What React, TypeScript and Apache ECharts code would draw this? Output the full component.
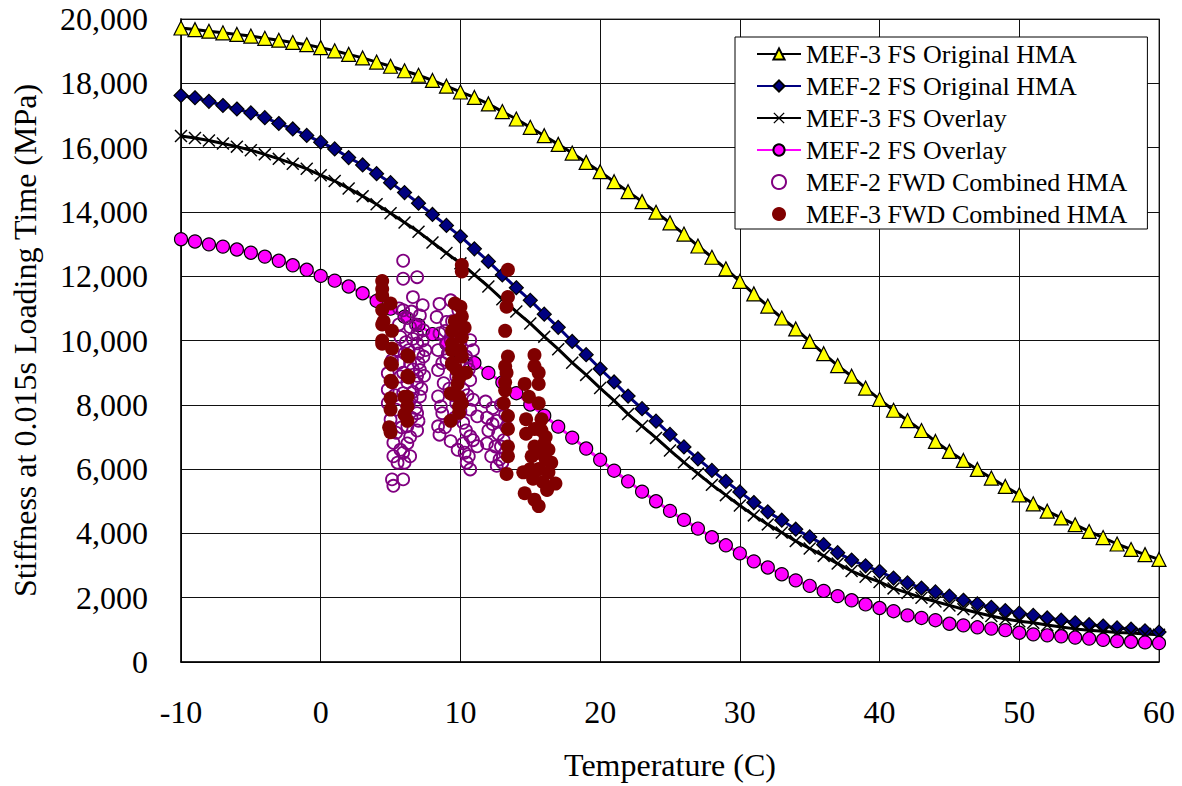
import React, { useEffect, useRef } from "react";
import * as echarts from "echarts";

const temps = [-10,-9,-8,-7,-6,-5,-4,-3,-2,-1,0,1,2,3,4,5,6,7,8,9,10,11,12,13,14,15,16,17,18,19,20,21,22,23,24,25,26,27,28,29,30,31,32,33,34,35,36,37,38,39,40,41,42,43,44,45,46,47,48,49,50,51,52,53,54,55,56,57,58,59,60];

const mef3Original = [19720,19670,19620,19570,19520,19470,19400,19340,19270,19200,19110,19010,18900,18790,18660,18530,18390,18250,18090,17910,17730,17560,17360,17120,16890,16630,16370,16100,15830,15540,15250,14940,14630,14320,13990,13660,13310,12940,12590,12230,11840,11450,11070,10700,10360,9970,9590,9220,8890,8520,8170,7830,7510,7200,6860,6550,6270,5990,5720,5460,5200,4920,4690,4480,4270,4060,3870,3670,3500,3340,3190];

const mef2Original = [17620,17550,17440,17310,17200,17080,16930,16750,16580,16380,16170,15960,15690,15460,15190,14910,14600,14270,13920,13580,13240,12850,12460,12040,11640,11250,10820,10410,9970,9560,9120,8710,8270,7880,7490,7080,6690,6320,5960,5620,5290,4960,4670,4410,4130,3890,3650,3400,3170,2990,2820,2610,2460,2300,2180,2050,1920,1810,1700,1600,1520,1450,1370,1300,1220,1160,1120,1060,1020,970,930];

const mef3Overlay = [16360,16300,16220,16130,16030,15920,15790,15650,15500,15340,15140,14960,14730,14490,14240,13960,13670,13380,13050,12720,12400,12050,11680,11280,10900,10530,10120,9730,9310,8930,8520,8130,7710,7340,6970,6580,6210,5860,5510,5190,4870,4560,4280,4030,3760,3530,3300,3060,2830,2650,2490,2290,2150,2000,1880,1760,1640,1530,1430,1340,1270,1220,1150,1090,1030,990,960,920,900,870,850];

const mef2Overlay = [13150,13080,12990,12920,12830,12730,12610,12480,12340,12200,12010,11860,11680,11470,11230,10990,10740,10480,10200,9900,9600,9300,8990,8700,8360,8010,7660,7320,6980,6640,6290,5950,5620,5300,5000,4700,4420,4150,3880,3630,3380,3130,2940,2730,2540,2370,2210,2050,1920,1790,1680,1580,1450,1370,1300,1190,1140,1080,1040,990,910,860,830,800,760,730,690,650,630,610,590];

const mef2Fwd: number[][] = [
  [5.9,12480],[5.9,11920],[6.9,11970],[6.6,11350],[5.9,10940],[7.1,10780],[6.4,10420],[7.35,10320],[5.7,10110],[6.9,9910],[5.4,9700],[7.35,9500],[5.1,9390],[6.4,9290],[7.1,9080],[4.8,8980],[5.7,8880],[6.9,8670],[4.8,8470],[5.9,8360],[7.1,8260],[4.8,8050],[5.4,7850],[6.9,7740],[5.0,7540],[6.2,7330],[5.4,7130],[5.2,6820],[5.9,6510],[5.2,6400],[6.0,6200],[5.1,5680],[5.9,5680],[5.2,5480],
  [6.2,10700],[6.6,10050],[6.0,9600],[6.6,9100],[6.2,8700],[6.6,8400],[6.3,8000],[6.0,7700],[5.6,9300],[5.6,10500],[6.8,10500],[5.8,7300],[6.4,7000],[5.3,8300],[6.1,9950],[7.0,9300],[5.5,6200],[5.6,11000],[6.9,8900],
  [7.3,10000],[7.5,9700],[7.0,9600],[7.4,8900],[7.2,8500],[6.5,8200],[6.8,7900],[7.0,7500],[6.5,7600],[6.9,7200],[6.3,9700],[6.5,10900],[6.9,10200],[7.3,11100],[5.9,9000],[6.2,6800],[5.7,6600],[6.4,6400],
  [8.5,11140],[9.3,11250],[9.85,10940],[8.3,10730],[9.0,10580],[8.5,10220],[9.3,10010],[10.7,10010],[8.4,9700],[10.9,9700],[9.0,9390],[10.45,9290],[8.4,9080],[9.7,8880],[10.7,8770],[8.8,8670],[10.2,8470],[8.4,8260],[10.9,8160],[9.7,8050],[10.7,7850],[8.7,7740],[11.2,7640],[10.2,7440],[8.4,7330],[8.5,7070],[10.7,7020],[9.3,6870],[11.2,6710],[10.3,6510],[10.45,6200],[10.7,5990],
  [9.0,9900],[10.0,9950],[8.7,9300],[10.4,9500],[9.2,8500],[10.5,8300],[8.6,7950],[10.4,7200],[10.9,6900],[10.6,6400],[9.4,10600],[8.9,10300],
  [9.6,10300],[9.1,9600],[9.9,9300],[9.5,8300],[10.0,7800],[9.6,7600],[10.2,6800],[8.9,7300],[9.8,6600],[10.6,9100],
  [11.8,8100],[12.3,7900],[12.9,8000],[11.9,7600],[12.6,7500],[13.2,7700],[12.0,7200],[12.7,7100],[13.3,7300],[11.9,6800],[12.5,6700],[13.1,6900],[12.2,6400],[12.8,6300],[13.2,6500],[12.6,6100],[13.0,6200],[12.3,7400],[12.9,6700]
];

const mef3Fwd: number[][] = [
  [4.4,11850],[4.4,11600],[4.4,11400],[5.0,11150],[4.4,10950],[4.5,10600],[4.4,10500],[5.1,10300],[4.4,10000],[4.4,9900],[5.1,9750],[5.0,9300],[5.1,9250],[6.3,9500],[6.2,9550],[5.0,8750],[5.1,8700],[6.2,8900],[6.3,8850],[6.0,8250],[6.2,8250],[5.0,7850],[6.2,7950],[6.2,7500],[5.0,7150],[4.9,7300],[6.0,7700],[5.0,8200],
  [10.1,12350],[10.1,12150],[10.0,11050],[9.6,11150],[10.1,10750],[9.4,10300],[10.1,10100],[9.4,9900],[10.0,9700],[9.4,9700],[9.4,9250],[9.4,9300],[10.0,8900],[9.9,8850],[9.3,8350],[9.4,8350],[9.9,8250],[9.9,7950],[9.3,7500],[9.9,7750],[10.1,9500],[10.1,8050],[9.8,8650],[9.6,10600],[9.7,9100],[10.3,10400],[10.4,9000],
  [13.4,12200],[13.4,11350],[13.3,11050],[13.2,10300],[13.4,9500],[13.2,9200],[13.3,9000],[13.2,8450],[13.1,8050],[13.4,7650],[13.4,7250],[13.4,6700],[13.4,6400],[13.3,5850],[13.2,8700],
  [15.3,9550],[15.3,9200],[15.6,9000],[14.6,8650],[15.6,8650],[14.9,8250],[15.6,8050],[14.7,7550],[15.8,7550],[15.3,7250],[16.1,7000],[14.7,7100],[15.3,6700],[16.3,6600],[15.1,6400],[16.1,6300],[16.5,6200],[14.5,5900],[15.6,6000],[16.3,5900],[16.8,5550],[14.6,5250],[15.3,5050],[15.6,4850],[15.2,5700],[15.9,5600],[15.5,6500],[16.0,6800],[15.8,7200],[16.2,5350],[15.0,6000]
];

const seriesNames = [
  "MEF-3 FS Original HMA",
  "MEF-2 FS Original HMA",
  "MEF-3 FS Overlay",
  "MEF-2 FS Overlay",
  "MEF-2 FWD Combined HMA",
  "MEF-3 FWD Combined HMA",
];

const FONT = "Liberation Serif";
const X_SYMBOL = "path://M0,0.8 L0.8,0 L5,4.2 L9.2,0 L10,0.8 L5.8,5 L10,9.2 L9.2,10 L5,5.8 L0.8,10 L0,9.2 L4.2,5 Z";

function pair(vals: number[]) {
  return temps.map((t, i) => [t, vals[i]]);
}

export default function App() {
  const ref = useRef<HTMLDivElement>(null);
  useEffect(() => {
    if (!ref.current) return;
    const chart = echarts.init(ref.current, undefined, { renderer: "svg" });
    const lineBase = {
      type: "line",
      showSymbol: true,
      showAllSymbol: true,
      z: 2,
    };
    chart.setOption({
      animation: false,
      backgroundColor: "#fff",
      textStyle: { fontFamily: FONT, color: "#000" },
      grid: {
        left: 181,
        right: 23,
        top: 19,
        bottom: 122,
        show: true,
        borderColor: "#808080",
        borderWidth: 1.5,
        backgroundColor: "transparent",
      },
      legend: {
        data: seriesNames,
        orient: "vertical",
        left: 735,
        top: 37,
        width: 409,
        backgroundColor: "#fff",
        borderColor: "#000",
        borderWidth: 1,
        borderRadius: 0,
        padding: [4, 20, 2, 21],
        itemWidth: 44,
        itemHeight: 14,
        itemGap: 6,
        textStyle: { fontFamily: FONT, fontSize: 26, color: "#000", lineHeight: 26 },
      },
      xAxis: {
        type: "value",
        min: -10,
        max: 60,
        interval: 10,
        name: "Temperature (C)",
        nameLocation: "middle",
        nameGap: 87,
        nameTextStyle: { fontFamily: FONT, fontSize: 32, color: "#000" },
        axisLine: { show: true, onZero: false, lineStyle: { color: "#000", width: 1.5 } },
        axisTick: { show: false },
        axisLabel: { fontFamily: FONT, fontSize: 32, color: "#000", margin: 34 },
        splitLine: { show: true, lineStyle: { color: "#111", width: 1 } },
      },
      yAxis: {
        type: "value",
        min: 0,
        max: 20000,
        interval: 2000,
        name: "Stiffness at 0.015s Loading Time (MPa)",
        nameLocation: "middle",
        nameRotate: 90,
        nameGap: 140,
        nameTextStyle: { fontFamily: FONT, fontSize: 32, color: "#000" },
        axisLine: { show: true, onZero: false, lineStyle: { color: "#000", width: 1.5 } },
        axisTick: { show: false },
        axisLabel: {
          fontFamily: FONT,
          fontSize: 32,
          color: "#000",
          margin: 33,
          formatter: (v: number) => v.toLocaleString("en-US"),
        },
        splitLine: { show: true, lineStyle: { color: "#111", width: 1 } },
      },
      series: [
        {
          ...lineBase,
          name: seriesNames[0],
          data: pair(mef3Original),
          symbol: "triangle",
          symbolSize: 14,
          lineStyle: { color: "#000", width: 3 },
          itemStyle: { color: "#FFFF00", borderColor: "#000", borderWidth: 1.2 },
        },
        {
          ...lineBase,
          name: seriesNames[1],
          data: pair(mef2Original),
          symbol: "diamond",
          symbolSize: 14,
          lineStyle: { color: "#000080", width: 3 },
          itemStyle: { color: "#000080", borderColor: "#000", borderWidth: 1.2 },
        },
        {
          ...lineBase,
          name: seriesNames[2],
          data: pair(mef3Overlay),
          symbol: X_SYMBOL,
          symbolSize: 13,
          lineStyle: { color: "#000", width: 3 },
          itemStyle: { color: "#000", borderColor: "#000", borderWidth: 0 },
        },
        {
          ...lineBase,
          name: seriesNames[3],
          data: pair(mef2Overlay),
          symbol: "circle",
          symbolSize: 13,
          lineStyle: { color: "#FF00FF", width: 3 },
          itemStyle: { color: "#FF00FF", borderColor: "#000", borderWidth: 1.2 },
        },
        {
          type: "scatter",
          name: seriesNames[4],
          data: mef2Fwd,
          symbol: "circle",
          symbolSize: 12,
          z: 3,
          itemStyle: { color: "rgba(255,255,255,0)", borderColor: "#800080", borderWidth: 1.8, opacity: 1 },
        },
        {
          type: "scatter",
          name: seriesNames[5],
          data: mef3Fwd,
          symbol: "circle",
          symbolSize: 14,
          z: 4,
          itemStyle: { color: "#800000", borderWidth: 0, opacity: 1 },
        },
      ],
    });
    return () => chart.dispose();
  }, []);
  return (
    <div
      ref={ref}
      style={{ position: "fixed", left: 0, top: 0, width: 1182, height: 786, background: "#fff" }}
    />
  );
}
